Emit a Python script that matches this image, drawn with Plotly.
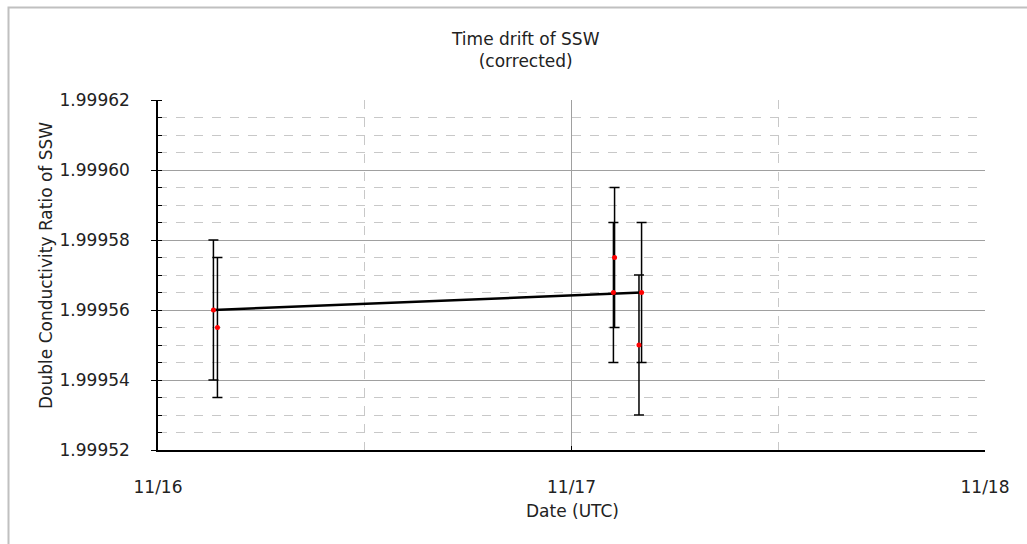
import plotly.graph_objects as go

# ---- data ----
meas_times = ["2010-11-16 03:13", "2010-11-16 03:27", "2010-11-17 02:26",
              "2010-11-17 02:30", "2010-11-17 03:55", "2010-11-17 04:04"]
meas_values = [1.99956, 1.999555, 1.999565, 1.999575, 1.99955, 1.999565]
meas_errors = [0.00002, 0.00002, 0.00002, 0.00002, 0.00002, 0.00002]

drift_times = ["2010-11-16 03:13", "2010-11-17 04:04"]
drift_values = [1.99956, 1.999565]

x_range = ["2010-11-16", "2010-11-18"]
y_range = [1.99952, 1.99962]

FONT = "DejaVu Sans"
FS = 17
TXT = "#222222"

# plot area in px: x 158..985, y 100..450 (figure 1027x544)
L, R, T, B = 158, 985, 100, 450
W, H = 1027, 544


def px_x(p):
    return (p - L) / (R - L)


def px_y(p):
    return (B - p) / (B - T)


fig = go.Figure()

fig.add_trace(go.Scatter(
    x=drift_times, y=drift_values, mode="lines",
    line=dict(color="black", width=2.5), hoverinfo="skip", showlegend=False))

fig.add_trace(go.Scatter(
    x=meas_times, y=meas_values, mode="markers",
    marker=dict(color="red", size=5),
    error_y=dict(type="data", array=meas_errors, color="black",
                 thickness=1.5, width=5),
    showlegend=False))

fig.update_layout(
    width=W, height=H,
    margin=dict(l=L, r=W - R, t=T, b=H - B, pad=0),
    paper_bgcolor="white", plot_bgcolor="white",
    font=dict(family=FONT, size=FS, color=TXT),
    showlegend=False,
)

fig.update_xaxes(
    type="date", range=x_range, dtick=86400000, tick0="2010-11-16",
    tickformat="%m/%d", showgrid=True, gridcolor="#a0a0a0", gridwidth=1,
    showline=True, linecolor="black", linewidth=1.5,
    ticks="inside", ticklen=4, tickcolor="black",
    ticklabelstandoff=21,
    minor=dict(dtick=43200000, showgrid=True, gridcolor="#c8c8c8",
               griddash="dash", ticks=""),
    zeroline=False,
)

fig.update_yaxes(
    range=y_range, dtick=0.00002, tick0=1.99952, tickformat=".5f",
    showgrid=True, gridcolor="#a0a0a0", gridwidth=1,
    showline=True, linecolor="black", linewidth=1.5,
    ticks="outside", ticklen=5, tickcolor="black",
    ticklabelstandoff=18,
    minor=dict(dtick=0.000005, showgrid=True, gridcolor="#c8c8c8",
               griddash="dash", ticks="inside", ticklen=4, tickcolor="black"),
    zeroline=False,
)

fig.add_annotation(text="Time drift of SSW<br>(corrected)", xref="paper", yref="paper",
                   x=px_x(525), y=px_y(50), showarrow=False,
                   xanchor="center", yanchor="middle",
                   font=dict(family=FONT, size=FS, color=TXT))
fig.add_annotation(text="Date (UTC)", xref="paper", yref="paper",
                   x=px_x(572), y=px_y(511), showarrow=False,
                   xanchor="center", yanchor="middle",
                   font=dict(family=FONT, size=FS, color=TXT))
fig.add_annotation(text="Double Conductivity Ratio of SSW", xref="paper", yref="paper",
                   x=px_x(46), y=px_y(266), showarrow=False, textangle=-90,
                   xanchor="center", yanchor="middle",
                   font=dict(family=FONT, size=FS, color=TXT))

# outer chart border (left and top visible)
fig.add_shape(type="rect", xref="paper", yref="paper",
              x0=px_x(8.5), x1=px_x(1200), y0=px_y(800), y1=px_y(7.5),
              line=dict(color="#c0c0c0", width=2), layer="below")

fig.write_html("out.html")
